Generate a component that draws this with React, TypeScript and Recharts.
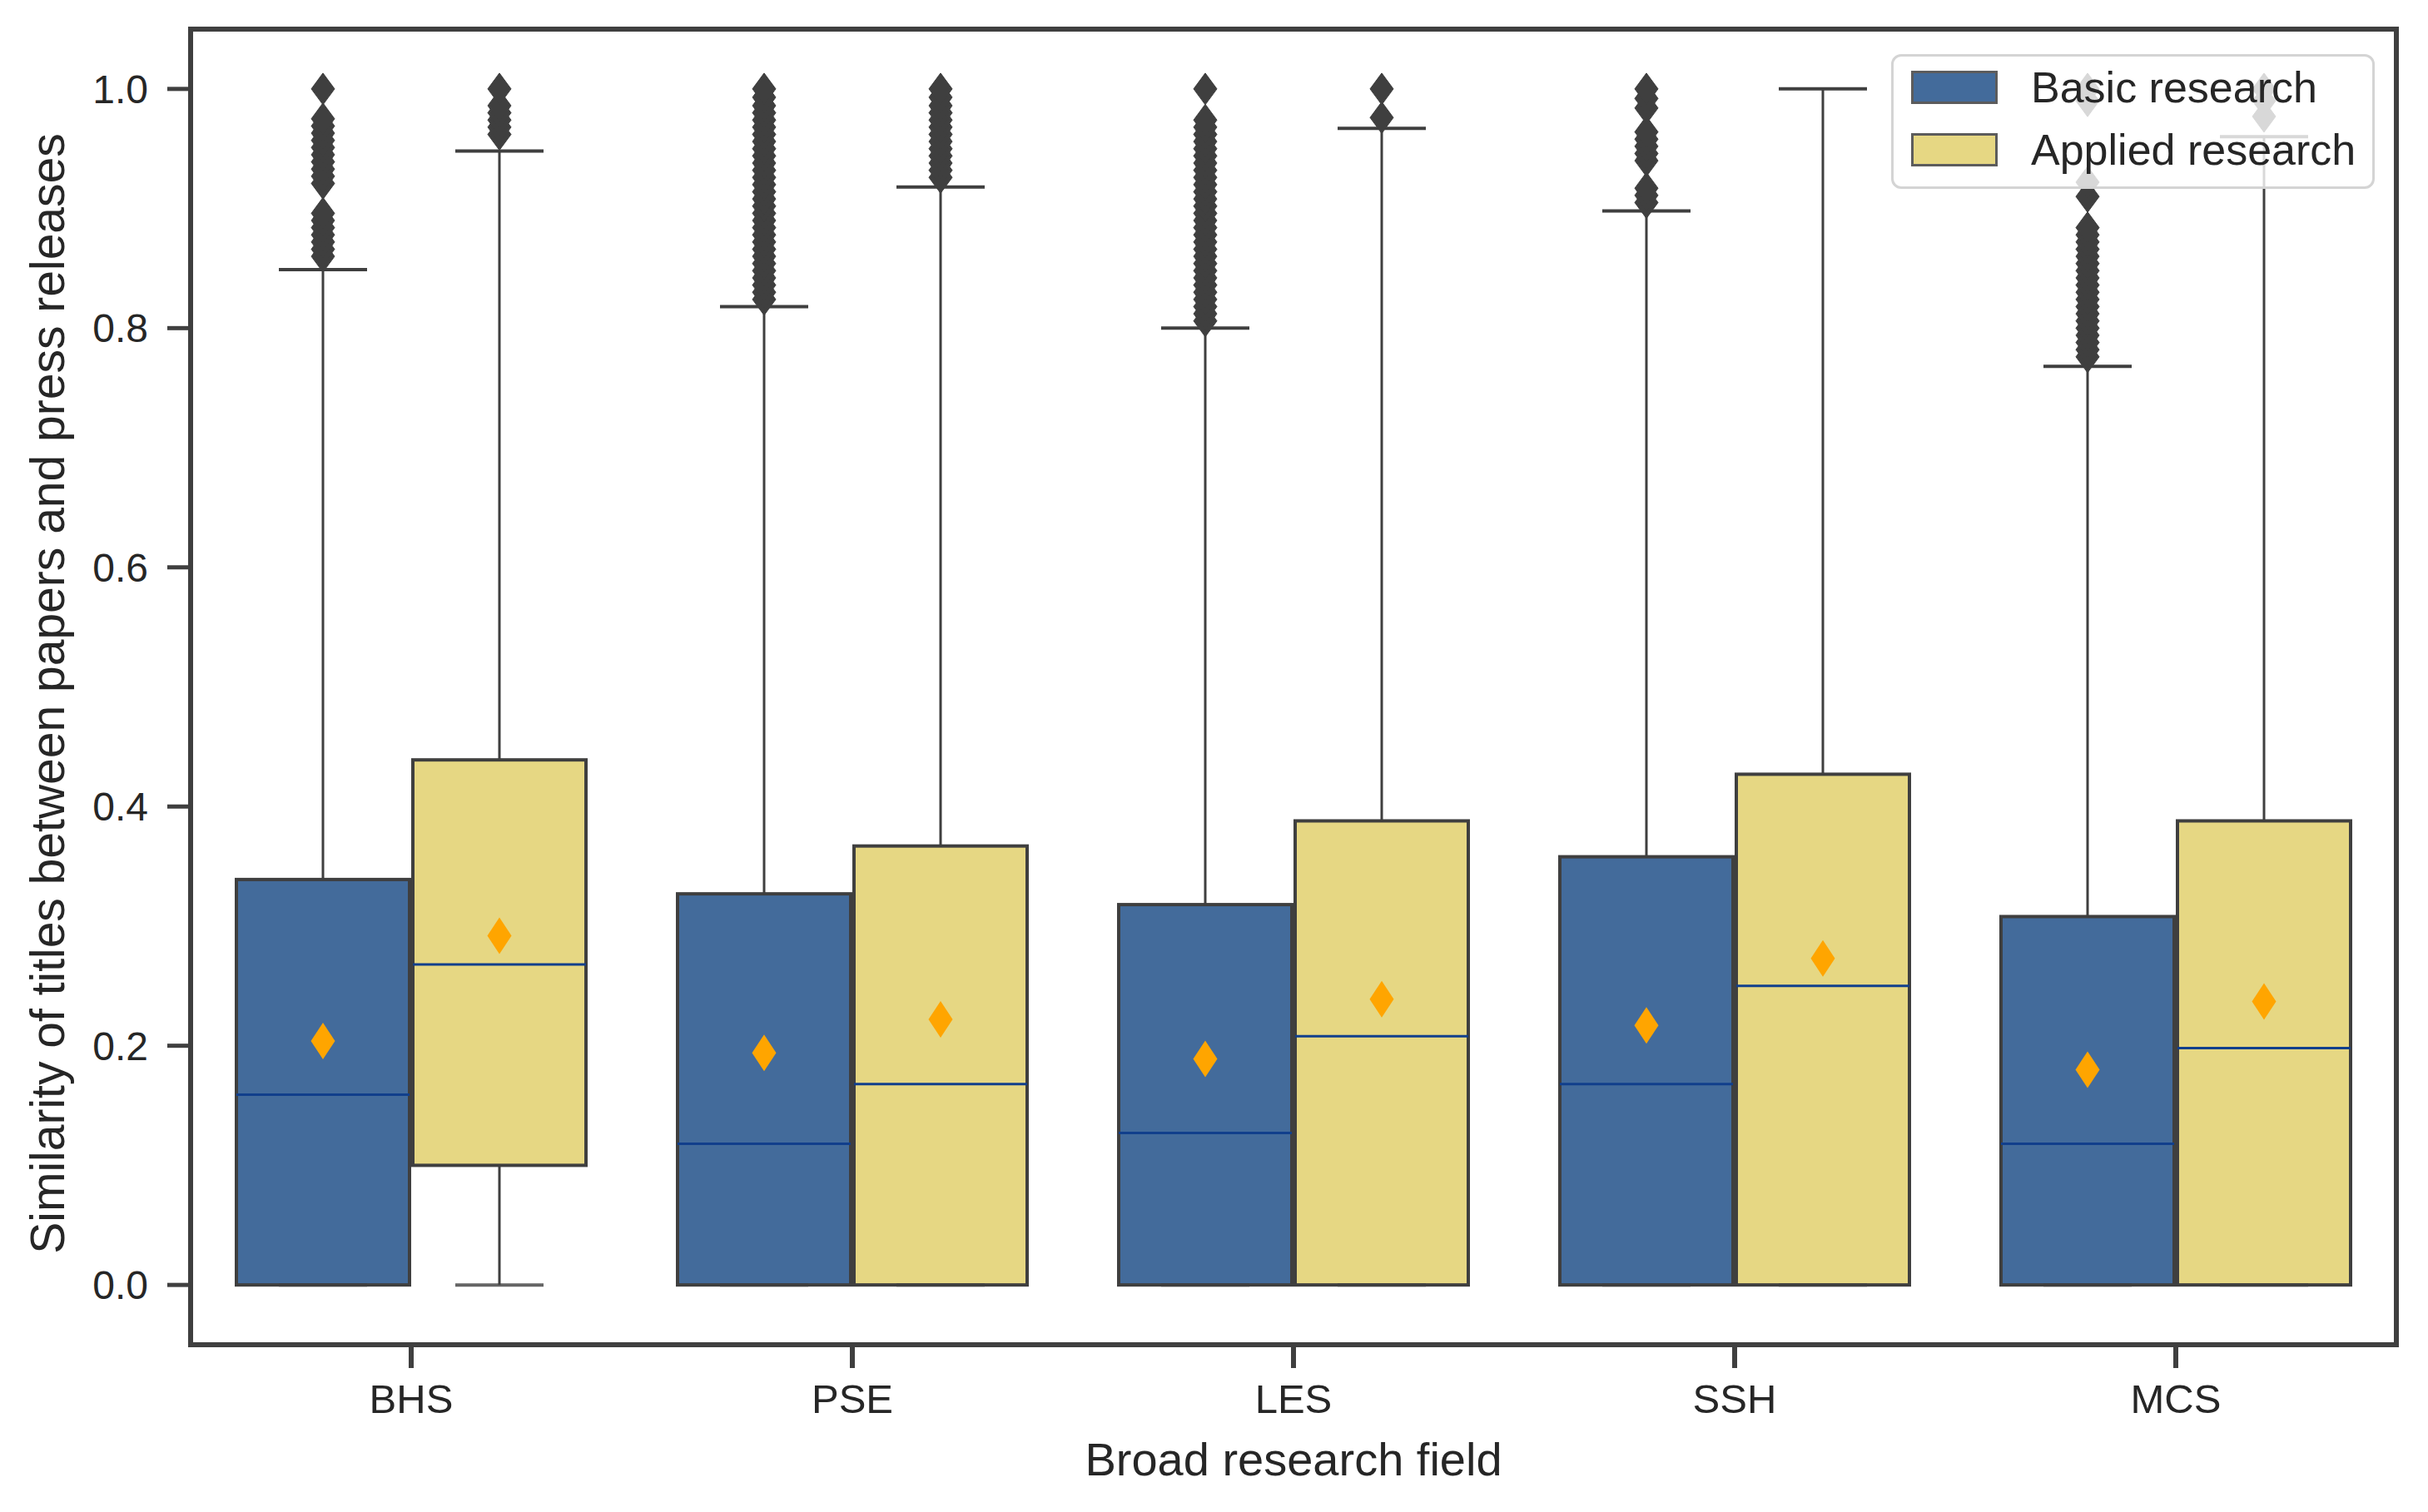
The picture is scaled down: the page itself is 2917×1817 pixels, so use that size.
import React from "react";
import { ComposedChart, Bar, XAxis, YAxis, Legend, Label, ReferenceArea } from "recharts";

// page has an 8px body margin by default; the figure should sit at 0,0
document.body.style.margin = "0";

const fields = ["BHS", "PSE", "LES", "SSH", "MCS"];
const seriesNames = ["Basic research", "Applied research"];
const yTicks = [0, 0.2, 0.4, 0.6, 0.8, 1.0];

// Basic research
const basicLow = [0, 0, 0, 0, 0];
const basicQ1 = [0, 0, 0, 0, 0];
const basicMedian = [0.159, 0.118, 0.127, 0.168, 0.118];
const basicQ3 = [0.339, 0.327, 0.318, 0.358, 0.308];
const basicHigh = [0.849, 0.818, 0.8, 0.898, 0.768];
const basicMean = [0.204, 0.194, 0.189, 0.217, 0.18];
const basicOutliers = [
  [0.86, 0.866, 0.872, 0.878, 0.884, 0.89, 0.896, 0.921, 0.927, 0.933, 0.939, 0.945, 0.951, 0.957, 0.963, 0.969, 0.975, 1.0],
  [0.824, 0.83, 0.836, 0.842, 0.848, 0.854, 0.86, 0.866, 0.872, 0.878, 0.884, 0.89, 0.896, 0.902, 0.908, 0.914, 0.92, 0.926, 0.932, 0.938, 0.944, 0.95, 0.956, 0.962, 0.968, 0.974, 0.98, 0.986, 0.993, 1.0],
  [0.806, 0.812, 0.818, 0.824, 0.83, 0.836, 0.842, 0.848, 0.854, 0.86, 0.866, 0.872, 0.878, 0.884, 0.89, 0.896, 0.902, 0.908, 0.914, 0.92, 0.926, 0.932, 0.938, 0.944, 0.95, 0.956, 0.962, 0.968, 0.974, 1.0],
  [0.905, 0.911, 0.917, 0.94, 0.946, 0.952, 0.958, 0.964, 0.984, 0.992, 1.0],
  [0.776, 0.782, 0.788, 0.794, 0.8, 0.806, 0.812, 0.818, 0.824, 0.83, 0.836, 0.842, 0.848, 0.854, 0.86, 0.866, 0.872, 0.878, 0.884, 0.91, 0.922, 0.99, 1.0],
];

// Applied research
const appliedLow = [0, 0, 0, 0, 0];
const appliedQ1 = [0.1, 0, 0, 0, 0];
const appliedMedian = [0.268, 0.168, 0.208, 0.25, 0.198];
const appliedQ3 = [0.439, 0.367, 0.388, 0.427, 0.388];
const appliedHigh = [0.948, 0.918, 0.967, 1.0, 0.96];
const appliedMean = [0.292, 0.222, 0.239, 0.273, 0.237];
const appliedOutliers = [
  [0.962, 0.968, 0.974, 0.98, 0.986, 1.0],
  [0.926, 0.932, 0.938, 0.944, 0.95, 0.956, 0.962, 0.968, 0.974, 0.98, 0.986, 0.993, 1.0],
  [0.976, 1.0],
  [],
  [0.977, 0.99, 1.0],
];

const FONT = "'Liberation Sans', Arial, sans-serif";
const TEXT = "#262626";
const LINE = "#3f3f3f";
const BLUE = "#436b9b";
const YELLOW = "#e6d783";
const MEDIAN = "#113f8c";
const MEAN = "#ffa500";

const stats = (low, q1, med, q3, high, mean, out, i) => ({
  low: low[i], q1: q1[i], median: med[i], q3: q3[i], high: high[i], mean: mean[i], outliers: out[i],
});

const data = fields.map((field, i) => {
  const basic = stats(basicLow, basicQ1, basicMedian, basicQ3, basicHigh, basicMean, basicOutliers, i);
  const applied = stats(appliedLow, appliedQ1, appliedMedian, appliedQ3, appliedHigh, appliedMean, appliedOutliers, i);
  return {
    field,
    basic,
    applied,
    basicRange: [basic.low, basic.high],
    appliedRange: [applied.low, applied.high],
  };
});

const diamond = (cx: number, cy: number, hw: number, hh: number) =>
  `${cx},${cy - hh} ${cx + hw},${cy} ${cx},${cy + hh} ${cx - hw},${cy}`;

// the bar spans low..high whisker, everything else is mapped linearly inside it
function BoxShape(props: any) {
  const { x, y, width, height, payload, group, fill } = props;
  const s = payload[group];
  const top = Math.min(y, y + height);
  const h = Math.abs(height);
  const py = (v: number) => top + (h * (s.high - v)) / (s.high - s.low);
  const cx = x + width / 2;
  const capHalf = width / 4;
  return (
    <g>
      <rect
        x={x + 2}
        y={py(s.q3)}
        width={width - 4}
        height={py(s.q1) - py(s.q3)}
        fill={fill}
        stroke={LINE}
        strokeWidth={4}
      />
      <line x1={cx} x2={cx} y1={py(s.q3)} y2={py(s.high)} stroke={LINE} strokeWidth={3} />
      <line x1={cx} x2={cx} y1={py(s.q1)} y2={py(s.low)} stroke={LINE} strokeWidth={3} />
      <line x1={cx - capHalf} x2={cx + capHalf} y1={py(s.high)} y2={py(s.high)} stroke={LINE} strokeWidth={4} />
      <line x1={cx - capHalf} x2={cx + capHalf} y1={py(s.low)} y2={py(s.low)} stroke={LINE} strokeWidth={4} opacity={0.8} />
      <line x1={x + 2} x2={x + width - 2} y1={py(s.median)} y2={py(s.median)} stroke={MEDIAN} strokeWidth={3} />
      {s.outliers.map((v: number, k: number) => (
        <polygon key={k} points={diamond(cx, py(v), 14, 19)} fill={LINE} stroke={LINE} strokeWidth={1} />
      ))}
      <polygon points={diamond(cx, py(s.mean), 14.5, 22)} fill={MEAN} />
    </g>
  );
}

const YTick = ({ x, y, payload }: any) => (
  <text x={x} y={y} dy="0.355em" textAnchor="end" fontSize={48} fontFamily={FONT} fill={TEXT}>
    {Number(payload.value).toFixed(1)}
  </text>
);

const XTick = ({ x, y, payload }: any) => (
  <text x={x} y={y} dy="0.72em" textAnchor="middle" fontSize={49} fontFamily={FONT} fill={TEXT}>
    {payload.value}
  </text>
);

const YLabel = ({ viewBox }: any) => {
  const bx = viewBox.x + 77;
  const by = viewBox.y + viewBox.height / 2 + 8;
  return (
    <text
      x={bx}
      y={by}
      transform={`rotate(-90 ${bx} ${by})`}
      textAnchor="middle"
      fontSize={57}
      fontFamily={FONT}
      fill={TEXT}
    >
      Similarity of titles between papers and press releases
    </text>
  );
};

const XLabel = ({ viewBox }: any) => (
  <text
    x={viewBox.x + viewBox.width / 2}
    y={viewBox.y + 157}
    textAnchor="middle"
    fontSize={56}
    fontFamily={FONT}
    fill={TEXT}
  >
    Broad research field
  </text>
);

const LegendBox = ({ payload }: any) => {
  const items = [...(payload || [])].sort(
    (a: any, b: any) => seriesNames.indexOf(a.value) - seriesNames.indexOf(b.value)
  );
  return (
    <div
      style={{
        boxSizing: "border-box",
        width: 581,
        height: 162,
        border: "3px solid #d4d4d4",
        borderRadius: 12,
        background: "rgba(255,255,255,0.8)",
        position: "relative",
        fontFamily: FONT,
      }}
    >
      {items.map((p: any, i: number) => (
        <div
          key={p.value}
          style={{ position: "absolute", left: 21, top: 17 + i * 75, display: "flex", alignItems: "center", height: 40 }}
        >
          <span
            style={{
              display: "inline-block",
              boxSizing: "border-box",
              width: 104,
              height: 40,
              background: p.color,
              border: "3px solid #5c5c5c",
            }}
          />
          <span style={{ marginLeft: 40, fontSize: 52, lineHeight: "40px", color: TEXT, whiteSpace: "nowrap" }}>
            {p.value}
          </span>
        </div>
      ))}
    </div>
  );
};

export default function App() {
  return (
    <ComposedChart
      width={2917}
      height={1817}
      data={data}
      margin={{ top: 35, right: 38, bottom: 0, left: 0 }}
      barCategoryGap="10%"
      barGap={0}
    >
      <XAxis
        dataKey="field"
        height={201}
        axisLine={false}
        tickLine={{ stroke: LINE, strokeWidth: 6 }}
        tickSize={28}
        tickMargin={19}
        tick={<XTick />}
        interval={0}
      >
        <Label content={<XLabel />} />
      </XAxis>
      <YAxis
        type="number"
        domain={[-0.05, 1.05]}
        ticks={yTicks}
        allowDataOverflow
        width={229}
        axisLine={false}
        tickLine={{ stroke: LINE, strokeWidth: 5 }}
        tickSize={28}
        tickMargin={23}
        tick={<YTick />}
      >
        <Label content={<YLabel />} />
      </YAxis>
      <Legend
        layout="vertical"
        align="center"
        verticalAlign="middle"
        content={<LegendBox />}
        wrapperStyle={{ left: 2272, top: 65, width: 581, height: 162 }}
      />
      <Bar
        dataKey="basicRange"
        name="Basic research"
        fill={BLUE}
        isAnimationActive={false}
        shape={(p: any) => <BoxShape {...p} group="basic" />}
      />
      <Bar
        dataKey="appliedRange"
        name="Applied research"
        fill={YELLOW}
        isAnimationActive={false}
        shape={(p: any) => <BoxShape {...p} group="applied" />}
      />
      {/* axes frame: all four spines */}
      <ReferenceArea y1={-0.05} y2={1.05} fill="none" fillOpacity={0} stroke={LINE} strokeWidth={6} ifOverflow="visible" />
    </ComposedChart>
  );
}
